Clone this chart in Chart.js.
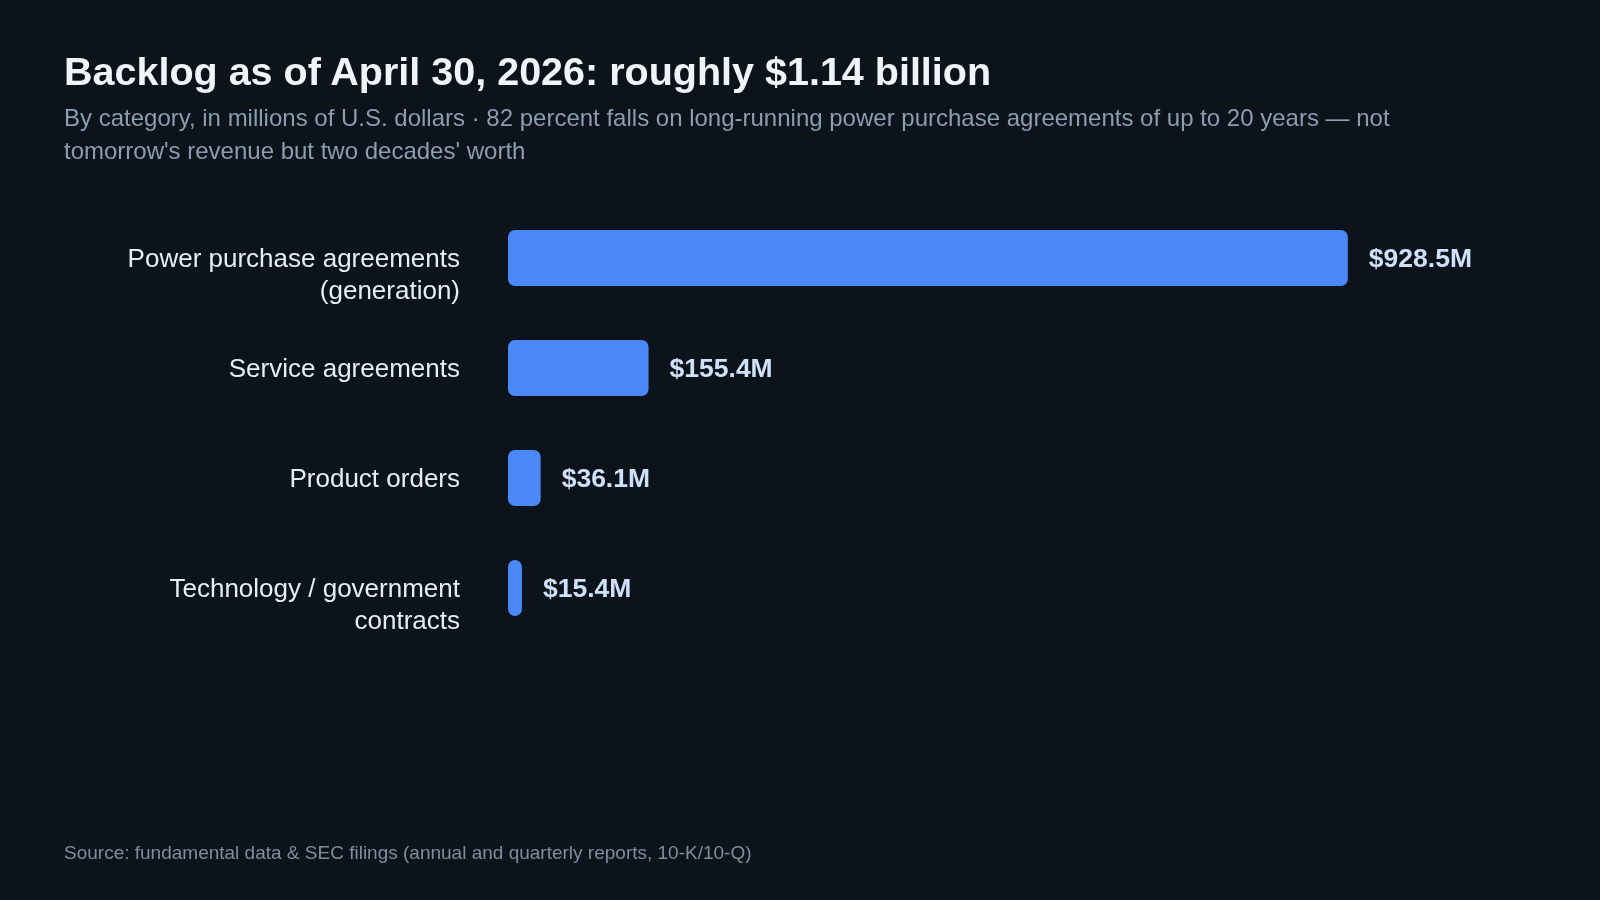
<!DOCTYPE html>
<html>
<head>
<meta charset="utf-8">
<script src="https://cdn.jsdelivr.net/npm/chart.js@4.4.1/dist/chart.umd.min.js"></script>
<style>
  html, body {
    margin: 0;
    padding: 0;
    width: 1600px;
    height: 900px;
    background: #0c131b;
    overflow: hidden;
    font-family: "Liberation Sans", Arial, Helvetica, sans-serif;
  }
  #wrap { position: absolute; left: 0; top: 0; width: 1600px; height: 900px; }
  #title {
    position: absolute; left: 64px; top: 51px;
    font-size: 39.5px; line-height: 40px; font-weight: bold; color: #f0f4f8;
    white-space: nowrap;
  }
  #subtitle {
    position: absolute; left: 64px; top: 101px;
    font-size: 24px; line-height: 33px; color: #8b9db0;
    white-space: nowrap;
  }
  #source {
    position: absolute; left: 64px; top: 841px;
    font-size: 19px; line-height: 24px; color: #7f8e9d;
    white-space: nowrap;
  }
</style>
</head>
<body>
<div id="wrap">
  <canvas id="backlogChart" width="1600" height="900"></canvas>
</div>
<div id="title">Backlog as of April 30, 2026: roughly $1.14 billion</div>
<div id="subtitle">By category, in millions of U.S. dollars · 82 percent falls on long-running power purchase agreements of up to 20 years — not<br>tomorrow's revenue but two decades' worth</div>
<div id="source">Source: fundamental data &amp; SEC filings (annual and quarterly reports, 10-K/10-Q)</div>

<script>
// Backlog categories and values (millions of USD)
const categories = [
  ['Power purchase agreements', '(generation)'],
  ['Service agreements'],
  ['Product orders'],
  ['Technology / government', 'contracts']
];
const backlogValues = [928.5, 155.4, 36.1, 15.4];
const valueLabels = ['$928.5M', '$155.4M', '$36.1M', '$15.4M'];

// Category labels: first line sits on the bar's center, extra lines hang below
const categoryLabelPlugin = {
  id: 'categoryLabels',
  afterDraw(chart) {
    const ctx = chart.ctx;
    const yScale = chart.scales.y;
    const left = chart.chartArea.left;
    ctx.save();
    ctx.font = '26px "Liberation Sans", Arial, sans-serif';
    ctx.fillStyle = '#e6edf3';
    ctx.textAlign = 'right';
    ctx.textBaseline = 'middle';
    categories.forEach((lines, i) => {
      const y = yScale.getPixelForValue(i) + 2;
      lines.forEach((line, j) => {
        ctx.fillText(line, left - 48, y + j * 32);
      });
    });
    ctx.restore();
  }
};

// Value labels to the right of each bar
const valueLabelPlugin = {
  id: 'valueLabels',
  afterDatasetsDraw(chart) {
    const ctx = chart.ctx;
    const meta = chart.getDatasetMeta(0);
    ctx.save();
    ctx.font = 'bold 26.5px "Liberation Sans", Arial, sans-serif';
    ctx.fillStyle = '#cfe0f8';
    ctx.textAlign = 'left';
    ctx.textBaseline = 'middle';
    meta.data.forEach((bar, i) => {
      ctx.fillText(valueLabels[i], bar.x + 21, bar.y + 2);
    });
    ctx.restore();
  }
};

const ctx = document.getElementById('backlogChart').getContext('2d');
new Chart(ctx, {
  type: 'bar',
  data: {
    labels: categories.map(c => c.join(' ')),
    datasets: [{
      data: backlogValues,
      backgroundColor: '#4a88f8',
      borderRadius: 7,
      borderSkipped: false,
      categoryPercentage: 1.0,
      barPercentage: 0.51
    }]
  },
  options: {
    indexAxis: 'y',
    responsive: false,
    animation: false,
    layout: {
      padding: { left: 508, right: 65, top: 203, bottom: 257 }
    },
    scales: {
      x: {
        display: false,
        min: 0,
        max: 1135.4
      },
      y: {
        display: false
      }
    },
    plugins: {
      legend: { display: false },
      tooltip: { enabled: false }
    }
  },
  plugins: [categoryLabelPlugin, valueLabelPlugin]
});
</script>
</body>
</html>
